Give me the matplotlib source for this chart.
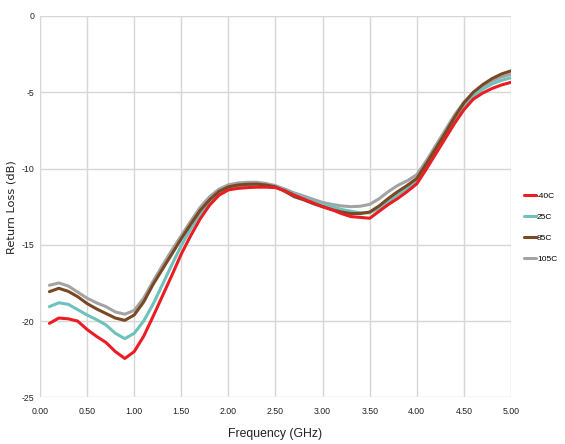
import matplotlib
matplotlib.use("Agg")
from matplotlib import pyplot as plt
import numpy as np

plt.rcParams['font.family'] = ['Liberation Sans', 'DejaVu Sans']

# frequency points, GHz
freq = np.round(np.arange(0.1, 5.01, 0.1), 2)

# return loss (dB)
rl_m40 = [-20.15, -19.8, -19.85, -20.0, -20.55, -21.0, -21.4, -22.0, -22.45, -22.0,
          -21.0, -19.7, -18.35, -17.0, -15.6, -14.4, -13.3, -12.4, -11.75, -11.4,
          -11.3, -11.25, -11.22, -11.22, -11.25, -11.45, -11.75, -12.0, -12.25, -12.5,
          -12.7, -12.95, -13.15, -13.2, -13.26, -12.8, -12.35, -11.95, -11.5, -11.0,
          -10.05, -9.05, -8.05, -7.05, -6.15, -5.45, -5.05, -4.75, -4.52, -4.35]
rl_25 = [-19.05, -18.8, -18.9, -19.25, -19.6, -19.9, -20.25, -20.8, -21.15, -20.8,
         -20.0, -18.9, -17.6, -16.3, -15.05, -13.95, -12.95, -12.2, -11.65, -11.3,
         -11.15, -11.1, -11.08, -11.1, -11.18, -11.4, -11.65, -11.9, -12.15, -12.35,
         -12.5, -12.68, -12.8, -12.9, -12.9, -12.6, -12.15, -11.7, -11.3, -10.85,
         -9.9, -8.9, -7.9, -6.85, -5.9, -5.25, -4.8, -4.45, -4.22, -4.05]
rl_85 = [-18.07, -17.85, -18.05, -18.4, -18.85, -19.2, -19.5, -19.8, -19.95, -19.6,
         -18.75, -17.6, -16.6, -15.6, -14.6, -13.65, -12.75, -12.05, -11.5, -11.2,
         -11.08, -11.03, -11.02, -11.08, -11.2, -11.5, -11.85, -12.05, -12.3, -12.5,
         -12.7, -12.85, -12.95, -12.95, -12.85, -12.45, -11.95, -11.5, -11.1, -10.65,
         -9.7, -8.7, -7.7, -6.65, -5.7, -5.0, -4.5, -4.1, -3.8, -3.6]
rl_105 = [-17.65, -17.5, -17.7, -18.1, -18.5, -18.8, -19.05, -19.4, -19.55, -19.3,
          -18.5, -17.4, -16.35, -15.35, -14.4, -13.45, -12.55, -11.85, -11.35, -11.07,
          -10.95, -10.9, -10.9, -10.98, -11.12, -11.35, -11.6, -11.8, -12.02, -12.22,
          -12.35, -12.45, -12.5, -12.47, -12.35, -11.98, -11.5, -11.1, -10.8, -10.4,
          -9.5, -8.5, -7.5, -6.5, -5.65, -5.05, -4.6, -4.25, -4.0, -3.82]

labels = ['-40C', '25C', '85C', '105C']
colors = ['#ec1c24', '#6fc1bc', '#7a4823', '#a3a3a3']
series = [rl_m40, rl_25, rl_85, rl_105]
zorders = [5, 3, 4, 2]

xticks = np.arange(0, 5.01, 0.5)
yticks = np.arange(-25, 1, 5)

fig = plt.figure(figsize=(5.65, 4.44), dpi=100)
ax = fig.add_axes([0.0708, 0.105, 0.8336, 0.859])

for y, lab, c, z in zip(series, labels, colors, zorders):
    ax.plot(freq, y, color=c, lw=2.2, label=lab, zorder=z, solid_capstyle='round')

ax.set_xlim(0, 5)
ax.set_ylim(-25, 0)
ax.set_xticks(xticks)
ax.set_xticklabels(['%.2f' % t for t in xticks])
ax.set_yticks(yticks)
ax.set_yticklabels(['%d' % t for t in yticks])
ax.grid(True, color='#d6d6d6', lw=1.0)
ax.set_axisbelow(True)
for s in ax.spines.values():
    s.set_visible(False)
ax.tick_params(length=0, labelsize=6.3, colors='#222222')
ax.tick_params(axis='x', pad=7)
ax.tick_params(axis='y', pad=4)

ax.set_xlabel('Frequency (GHz)', fontsize=8.8, color='#222222')
ax.xaxis.set_label_coords(0.5, -0.08)
ax.set_ylabel('Return Loss (dB)', fontsize=8.2, color='#222222',
              family=['DejaVu Sans'])
ax.yaxis.set_label_coords(-0.05, 0.5)

ax.legend(loc='center left', bbox_to_anchor=(1.02, 0.445), frameon=False,
          fontsize=6, handlelength=1.5, handletextpad=0.1, labelspacing=1.58,
          borderaxespad=0)

fig.savefig('out.png', dpi=100)
